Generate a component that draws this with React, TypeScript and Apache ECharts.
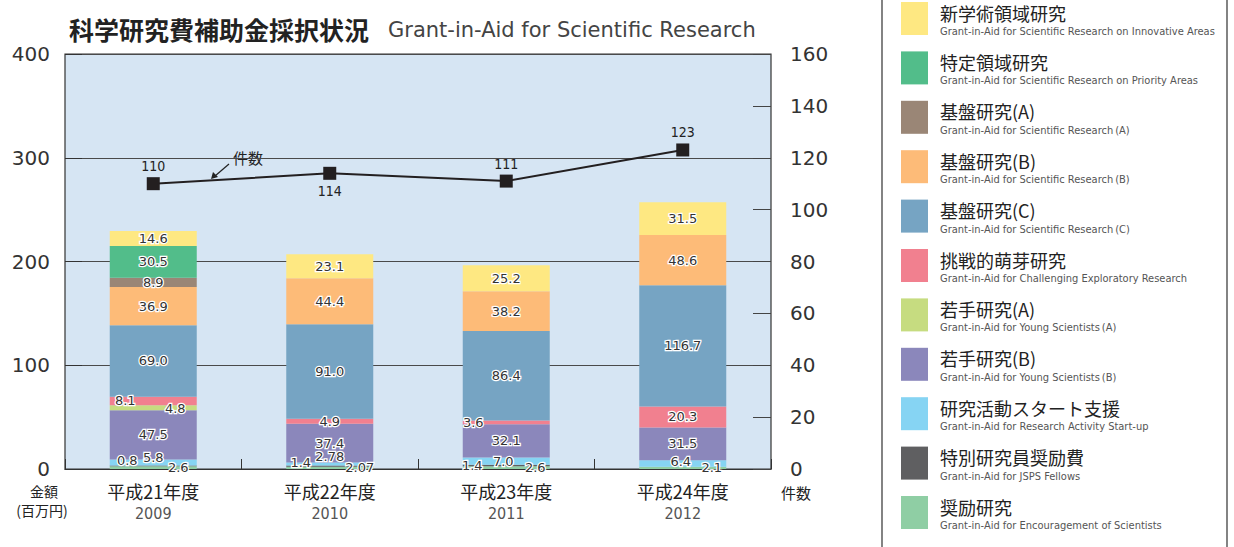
import React, { useEffect, useRef } from 'react';
import * as echarts from 'echarts';

// ---- Data ----
const fiscalYears = ['平成21年度', '平成22年度', '平成23年度', '平成24年度'];
const westernYears = ['2009', '2010', '2011', '2012'];

// amounts (百万円), stacked bottom -> top
const encouragement = [2.6, 2.07, 2.6, 2.1];
const jspsFellows = [0.8, 1.4, 1.4, null];
const startUp = [5.8, 2.78, 7.0, 6.4];
const youngB = [47.5, 37.4, 32.1, 31.5];
const youngA = [4.8, null, null, null];
const challenging = [8.1, 4.9, 3.6, 20.3];
const basicC = [69.0, 91.0, 86.4, 116.7];
const basicB = [36.9, 44.4, 38.2, 48.6];
const basicA = [8.9, null, null, null];
const priorityAreas = [30.5, null, null, null];
const innovativeAreas = [14.6, 23.1, 25.2, 31.5];

// number of awards (件数)
const counts = [110, 114, 111, 123];
const countLabelPos = ['top', 'bottom', 'top', 'top'];

const leftTicks = [0, 100, 200, 300, 400];
const rightTicks = [0, 20, 40, 60, 80, 100, 120, 140, 160];

type Cat = { name: string; en: string; color: string; data: (number | null)[]; offsets?: ([number, number] | null)[] };

// stacking order bottom -> top
const categories: Cat[] = [
  { name: '奨励研究', en: 'Grant-in-Aid for Encouragement of Scientists', color: '#8fcea4', data: encouragement, offsets: [[25, 0], [30, 0], [29, 0], [29, 0]] },
  { name: '特別研究員奨励費', en: 'Grant-in-Aid for JSPS Fellows', color: '#5f5f61', data: jspsFellows, offsets: [[-26, -5], [-29, -4], [-34, 0], null] },
  { name: '研究活動スタート支援', en: 'Grant-in-Aid for Research Activity Start-up', color: '#86d4f3', data: startUp, offsets: [[0, -5], [0, -7], [-3, 0], [-2, -2]] },
  { name: '若手研究(B)', en: 'Grant-in-Aid for Young Scientists\u2009(B)', color: '#8b87bb', data: youngB },
  { name: '若手研究(A)', en: 'Grant-in-Aid for Young Scientists\u2009(A)', color: '#c6dc80', data: youngA, offsets: [[22, 1], null, null, null] },
  { name: '挑戦的萌芽研究', en: 'Grant-in-Aid for Challenging Exploratory Research', color: '#f1808f', data: challenging, offsets: [[-28, 0], null, [-33, 0], null] },
  { name: '基盤研究(C)', en: 'Grant-in-Aid for Scientific Research\u2009(C)', color: '#76a4c3', data: basicC },
  { name: '基盤研究(B)', en: 'Grant-in-Aid for Scientific Research\u2009(B)', color: '#fdbb78', data: basicB },
  { name: '基盤研究(A)', en: 'Grant-in-Aid for Scientific Research\u2009(A)', color: '#9a8676', data: basicA },
  { name: '特定領域研究', en: 'Grant-in-Aid for Scientific Research on Priority Areas', color: '#52bd8a', data: priorityAreas },
  { name: '新学術領域研究', en: 'Grant-in-Aid for Scientific Research on Innovative Areas', color: '#fee882', data: innovativeAreas },
];

const NUM_FONT = '"DejaVu Sans", "Noto Sans", sans-serif';
const JP_FONT = '"Noto Sans CJK JP", "Noto Sans", sans-serif';
const NARROW_FONT = '"DejaVu Sans Condensed", "Liberation Sans Narrow", sans-serif';

export default function App() {
  const ref = useRef<HTMLDivElement>(null);

  useEffect(() => {
    if (!ref.current) return;
    const chart = echarts.init(ref.current, undefined, { renderer: 'svg' });

    const fmt = (v: number) => (Number.isInteger(v) ? v.toFixed(1) : String(v));

    const barSeries = categories.map((c) => ({
      name: c.name,
      type: 'bar',
      stack: 'amount',
      barWidth: 87,
      itemStyle: { color: c.color },
      label: {
        show: true,
        position: 'inside',
        fontFamily: NUM_FONT,
        fontSize: 13,
        color: '#333',
        textBorderColor: '#fff',
        textBorderWidth: 2.5,
        formatter: (p: any) => (p.value == null ? '' : fmt(p.value)),
      },
      data: c.data.map((v, i) => {
        const off = c.offsets ? c.offsets[i] : null;
        return off ? { value: v, label: { offset: off } } : { value: v };
      }),
    }));

    const option: any = {
      animation: false,
      title: {
        left: 64,
        top: 11,
        text: '{a|科学研究費補助金採択状況}{b|Grant-in-Aid for Scientific Research}',
        textStyle: {
          rich: {
            a: { fontFamily: JP_FONT, fontSize: 25, fontWeight: 'bold', color: '#222' },
            b: { fontFamily: NUM_FONT, fontSize: 21, fontWeight: 'normal', color: '#444', padding: [3, 0, 0, 19] },
          },
        },
      },
      legend: {
        orient: 'vertical',
        left: 901,
        top: 2,
        padding: 0,
        itemWidth: 27,
        itemHeight: 33,
        itemGap: 14.4,
        icon: 'rect',
        selectedMode: false,
        data: categories.slice().reverse().map((c) => c.name),
        formatter: (name: string) => {
          const c = categories.find((x) => x.name === name)!;
          return `{a|${c.name}}\n{b|${c.en}}`;
        },
        textStyle: {
          padding: [6, 0, 0, 7],
          rich: {
            a: { fontFamily: JP_FONT, fontSize: 18, color: '#222', lineHeight: 20 },
            b: { fontFamily: NARROW_FONT, fontSize: 11, color: '#555', lineHeight: 18 },
          },
        },
      },
      grid: {
        left: 65,
        right: 463,
        top: 54,
        bottom: 78,
        show: true,
        backgroundColor: '#d6e5f3',
        borderColor: '#333',
        borderWidth: 1.2,
      },
      xAxis: {
        type: 'category',
        data: fiscalYears,
        axisLine: { show: true, lineStyle: { color: '#333', width: 1.2 } },
        axisTick: { show: true, inside: true, length: 10, interval: 0, lineStyle: { color: '#333' } },
        axisLabel: {
          margin: 11,
          interval: 0,
          formatter: (v: string, i: number) => `{a|${v}}\n{b|${westernYears[i]}}`,
          rich: {
            a: { fontFamily: JP_FONT, fontSize: 18, color: '#222', lineHeight: 22 },
            b: { fontFamily: NARROW_FONT, fontSize: 16, color: '#555', lineHeight: 22 },
          },
        },
      },
      yAxis: [
        {
          type: 'value',
          min: leftTicks[0],
          max: leftTicks[leftTicks.length - 1],
          interval: 100,
          axisLine: { show: false },
          axisTick: { show: true, inside: true, length: 17, lineStyle: { color: '#333' } },
          splitLine: { show: true, lineStyle: { color: '#4a4a4a', width: 1 } },
          axisLabel: { fontFamily: NUM_FONT, fontSize: 20, color: '#333', margin: 15 },
        },
        {
          type: 'value',
          min: rightTicks[0],
          max: rightTicks[rightTicks.length - 1],
          interval: 20,
          axisLine: { show: false },
          axisTick: { show: true, inside: true, length: 18, lineStyle: { color: '#444' } },
          splitLine: { show: false },
          axisLabel: { fontFamily: NUM_FONT, fontSize: 20, color: '#333', margin: 19 },
        },
      ],
      series: [
        ...barSeries,
        {
          name: '件数',
          type: 'line',
          yAxisIndex: 1,
          symbol: 'rect',
          symbolSize: 13,
          itemStyle: { color: '#231f20' },
          lineStyle: { color: '#231f20', width: 2 },
          z: 10,
          label: {
            show: true,
            fontFamily: NARROW_FONT,
            fontSize: 14,
            color: '#222',
            distance: 4,
          },
          data: counts.map((v, i) => ({ value: v, label: { position: countLabelPos[i] } })),
        },
      ],
      graphic: [
        {
          type: 'rect',
          shape: { x: 882, y: -4, width: 345, height: 560 },
          style: { fill: 'none', stroke: '#333', lineWidth: 1.2 },
          z: -1,
        },
        {
          type: 'text',
          x: 248,
          y: 157,
          style: { text: '件数', fontFamily: JP_FONT, fontSize: 15, fill: '#222', align: 'center', verticalAlign: 'middle' },
        },
        {
          type: 'line',
          shape: { x1: 229, y1: 164, x2: 215, y2: 176 },
          style: { stroke: '#222', lineWidth: 1.2 },
        },
        {
          type: 'polygon',
          shape: { points: [[211, 179], [213, 172], [218, 177]] },
          style: { fill: '#222' },
        },
        {
          type: 'text',
          x: 44,
          y: 491,
          style: { text: '金額', fontFamily: JP_FONT, fontSize: 14, fill: '#222', align: 'center', verticalAlign: 'middle' },
        },
        {
          type: 'text',
          x: 42,
          y: 510,
          style: { text: '(百万円)', fontFamily: JP_FONT, fontSize: 14, fill: '#222', align: 'center', verticalAlign: 'middle' },
        },
        {
          type: 'text',
          x: 796,
          y: 492,
          style: { text: '件数', fontFamily: JP_FONT, fontSize: 15, fill: '#222', align: 'center', verticalAlign: 'middle' },
        },
      ],
    };

    chart.setOption(option);
    return () => chart.dispose();
  }, []);

  return <div ref={ref} style={{ position: 'absolute', left: 0, top: 0, width: 1234, height: 547 }} />;
}
